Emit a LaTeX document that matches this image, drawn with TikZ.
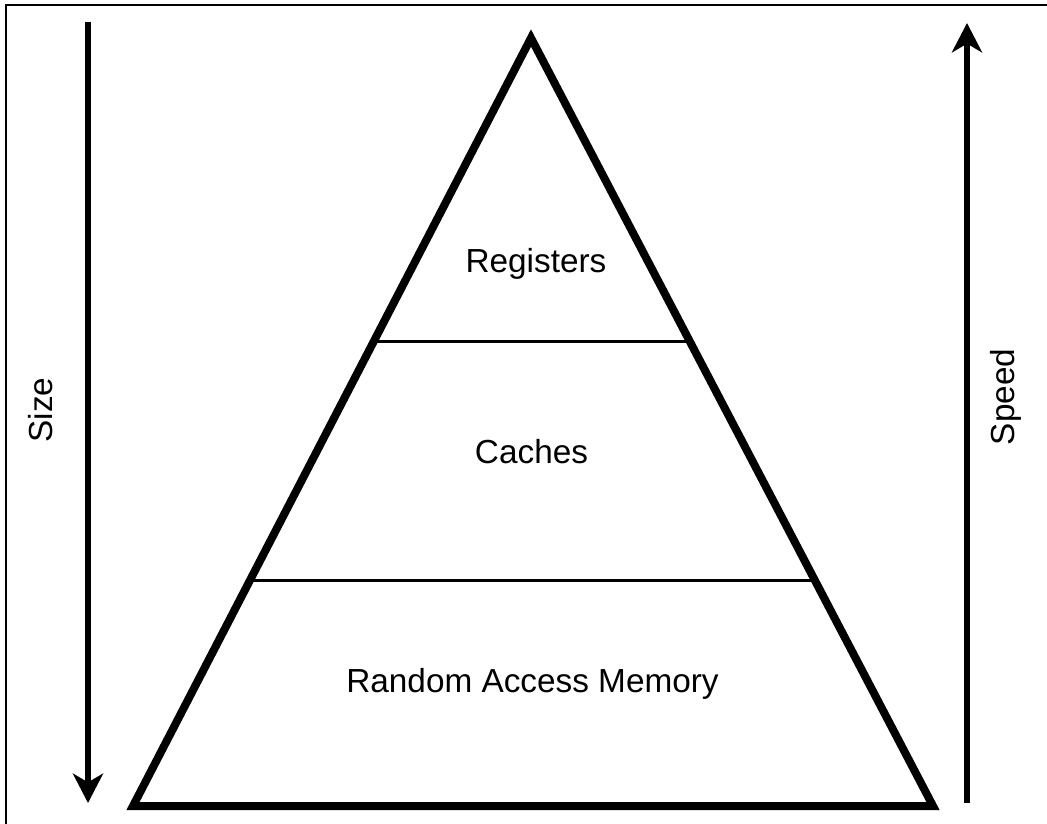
\documentclass[tikz,border=0pt]{standalone}
\usepackage{fontspec}
\setmainfont{Liberation Sans}
\usetikzlibrary{arrows.meta,calc}
\begin{document}
\begin{tikzpicture}[x=0.75pt,y=-0.75pt,
  tri/.style={line width=6pt,line join=miter},
  divider/.style={line width=2.25pt},
  sidearrow/.style={line width=4pt,-{Stealth[length=22pt,width=22.5pt,inset=6.5pt]}},
  frameline/.style={line width=2.2pt},
  label/.style={font=\fontsize{25pt}{30pt}\selectfont,anchor=base,inner sep=0pt},
  vlabel/.style={label,rotate=90}]
\useasboundingbox (0,0) rectangle (1047,824);
% frame
\draw[frameline] (6,830) -- (6,5) -- (1053,5);
% triangle
\coordinate (apex) at (531,38);
\coordinate (bl) at (133,806);
\coordinate (br) at (933,806);
\draw[tri] (apex) -- (bl) -- (br) -- cycle;
% dividers
\coordinate (d1l) at ($(apex)!0.3958!(bl)$);
\coordinate (d1r) at ($(apex)!0.3958!(br)$);
\coordinate (d2l) at ($(apex)!0.7070!(bl)$);
\coordinate (d2r) at ($(apex)!0.7070!(br)$);
\draw[divider] (d1l) -- (d1r);
\draw[divider] (d2l) -- (d2r);
% labels
\node[label] (reg) at (536,272) {Registers};
\node[label] (cache) at (531.5,463) {Caches};
\node[label] (ram) at (532.5,692) {Random Access Memory};
% side arrows
\coordinate (sizetop) at (88,22);
\coordinate (sizebot) at (88,803);
\draw[sidearrow] (sizetop) -- (sizebot);
\coordinate (speedbot) at (967,803);
\coordinate (speedtop) at (967,23);
\draw[sidearrow] (speedbot) -- (speedtop);
\node[vlabel] (size) at (52,410) {Size};
\node[vlabel] (speed) at (1014,397) {Speed};
\end{tikzpicture}
\end{document}
